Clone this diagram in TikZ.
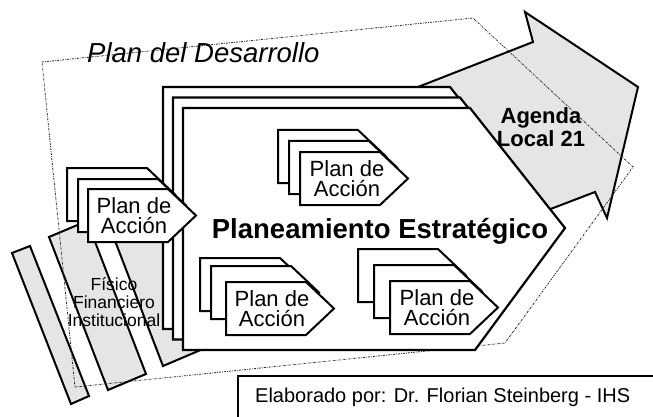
\documentclass[tikz,border=0pt]{standalone}
\usepackage{fontspec}
\setmainfont{Liberation Sans}

\tikzset{
  borde/.style={line width=2pt, line join=miter},
  hoja/.style={borde, fill=white},
  sombra/.style={borde, fill=black!10},
  contorno/.style={line width=0.8pt, black!85, dash pattern=on 2pt off 1.2pt on 0.6pt off 1.2pt},
  rotulo/.style={align=center, font=\fontsize{22}{20.5}\selectfont},
}
\newcommand{\tarjeta}[2]{\filldraw[hoja] (#1,#2) -- ++(80,0) -- ++(28,26.5) -- ++(-28,26.5) -- ++(-80,0) -- cycle;}

\begin{document}
\begin{tikzpicture}[x=1pt,y=-1pt]
	\useasboundingbox (0,0) rectangle (653,417);
	\clip (0,0) rectangle (653,417);
	% barras inclinadas
	\filldraw[sombra] (12,253) -- (30,246) -- (89,396) -- (71,404) -- cycle;
	\filldraw[sombra] (49,237) -- (87,221) -- (146,374) -- (108,390) -- cycle;
	\filldraw[sombra] (104,212) -- (150,193) -- (210,346) -- (163,366) -- cycle;
	% flecha Agenda Local 21
	\filldraw[sombra] (400,94) -- (533,42) -- (525,12) -- (638,87) -- (607,218) -- (595,192) -- (480,236) -- cycle;
	% Plan del Desarrollo
	\draw[contorno] (42,62) -- (473,18) -- (633,167) -- (505,343) -- (75,387) -- cycle;
	\node[anchor=base west, inner sep=0pt, font=\itshape\fontsize{27.5}{29}\selectfont] (desarrollo) at (87,63) {Plan del Desarrollo};
	% planeamiento
	\foreach \d in {20,10,0} {
		\filldraw[hoja, line width=2.2pt, shift={(-\d,-1.05*\d)}] (183,108) -- (470,108) -- (565,228) -- (475,350) -- (183,350) -- cycle;
	}
	\node[anchor=base, font=\bfseries\fontsize{27.5}{30}\selectfont] (planeamiento) at (380,238) {Planeamiento Estratégico};
	% planes de accion
	\tarjeta{278}{130} \tarjeta{289}{141} \tarjeta{300}{152}
	\node[rotulo] (accion1) at (347,178.5) {Plan de\\Acción};
	\tarjeta{200}{258} \tarjeta{211}{266} \tarjeta{226}{282}
	\node[rotulo] (accion2) at (272,308.5) {Plan de\\Acción};
	\tarjeta{358}{249} \tarjeta{374}{265} \tarjeta{390}{281}
	\node[rotulo] (accion3) at (437,307.5) {Plan de\\Acción};
	\tarjeta{67}{168} \tarjeta{78}{179} \tarjeta{88}{189}
	\node[rotulo] (accion4) at (134,215.5) {Plan de\\Acción};
	% textos
	\node[align=center, font=\bfseries\fontsize{22}{23}\selectfont] (agenda) at (541,127) {Agenda\\Local 21};
	\node[align=center, font=\fontsize{17.5}{18}\selectfont] (fisico) at (114,302) {Físico\\Financiero\\Institucional};
	% autor
	\draw[line width=1.5pt] (238,376) rectangle (680,440);
	\node[anchor=base west, inner sep=0pt, font=\fontsize{20}{22}\selectfont] (autor) at (255,402) {Elaborado por: Dr. Florian Steinberg - IHS};
\end{tikzpicture}
\end{document}
